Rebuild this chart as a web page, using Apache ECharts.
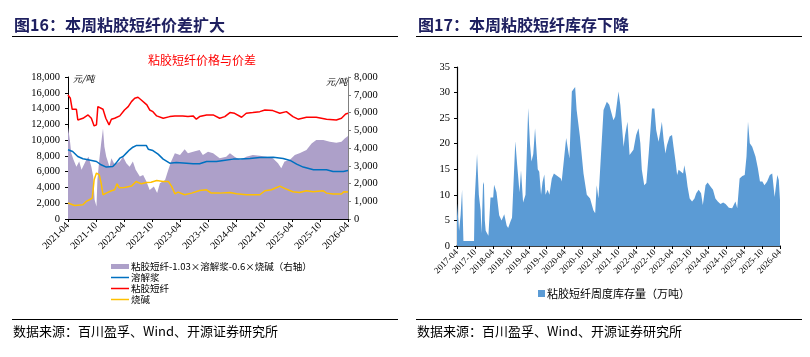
<!DOCTYPE html>
<html><head><meta charset="utf-8">
<script src="https://cdn.jsdelivr.net/npm/echarts@6/dist/echarts.min.js"></script>
<style>html,body{margin:0;padding:0;background:#fff}#c{width:810px;height:357px}</style>
</head><body><div id="c"></div>
<script>
// ---- Left chart (months since 2021-04) ----
const redM = [0,0.5,0.9,1.8,2.1,3.2,4.3,5.0,5.6,6.1,6.4,6.8,7.5,8.1,8.8,9.3,10.0,11.1,12.1,12.9,13.6,14.3,15.0,15.7,16.9,17.5,18.2,19.0,20.4,21.8,22.9,24.6,25.7,26.8,27.5,28.2,29.7,31.1,32.5,33.6,34.7,35.7,37.2,38.2,39.6,41.1,42.2,43.9,45.4,46.8,48.2,49.3,51.1,53.2,55.4,57.5,58.6,59.5,60];
const redV = [15720,15300,13900,13900,12560,12770,13190,12770,11800,11940,14240,14360,13910,12770,11930,12650,12770,13070,13820,14240,14880,15300,15430,15090,14460,13820,13610,13070,12770,12980,13070,13070,12980,13070,12650,12980,13190,13190,12770,12980,13490,13400,12900,13400,13490,13610,13820,13740,13400,13610,12980,12650,12900,12900,12650,12560,12770,13320,13400];
const pulpM = [0,1.0,2.1,3.2,4.3,6.1,7.1,8.2,9.6,10.3,11.1,11.8,12.5,13.2,13.9,14.6,16.8,17.2,18.2,19.3,20.4,21.8,23.2,25.4,26.8,28.2,29.7,31.8,33.3,35.4,36.9,39.0,41.1,44.0,46.1,47.6,49.0,50.4,52.6,55.4,56.8,59.0,60];
const pulpV = [8770,8560,7920,7630,7500,7290,6870,6580,6660,7080,7710,7920,8350,8770,9100,9310,9310,8850,8680,8220,7590,7080,7160,7080,7000,7000,7290,7290,7420,7590,7590,7670,7800,7840,7670,7420,6950,6580,6240,6240,6020,6020,6150];
const sodaM = [0,1.4,3.2,3.9,4.6,5.2,5.6,6.1,6.7,7.1,7.5,8.2,9.3,10.0,10.5,11.0,12.1,13.6,14.6,15.7,16.8,17.8,19.0,20.4,21.5,22.2,22.9,23.6,25.0,26.5,28.2,29.7,30.7,32.5,34.7,36.1,38.2,41.1,42.2,43.6,44.6,45.4,46.4,48.2,49.6,51.1,52.5,54.7,55.4,56.8,58.6,59.1,60];
const sodaV = [2020,1720,1800,2230,2440,2650,4970,5820,5600,4550,3070,3280,3580,3700,4460,3960,4000,4170,4760,4460,4630,4670,4880,4760,4760,4130,3200,3410,3070,3280,3620,3700,3280,3280,3370,3200,3070,3070,3580,3700,3960,4170,3880,3450,3370,3580,3450,3580,3280,3160,3160,3450,3410];
const spreadM = [0,0.4,0.7,1.2,1.8,2.4,2.9,3.2,3.9,4.4,5.0,5.4,5.7,6.1,6.3,6.7,7.1,7.5,7.8,8.2,8.9,9.3,10.0,11.1,11.8,12.5,13.2,13.9,14.5,15.4,16.1,16.8,17.5,18.4,19.1,19.7,20.8,21.5,22.1,22.9,24.0,25.0,25.7,26.8,28.2,28.9,30.0,31.1,32.5,33.9,34.7,35.7,36.9,38.2,39.6,41.1,42.5,43.9,45.0,45.7,46.4,47.5,48.6,49.6,51.1,52.2,53.2,54.7,56.1,57.5,58.6,59.3,60];
const spreadV = [5190,4450,3700,3330,2950,3240,2770,2950,3330,3510,2950,2390,1080,710,2200,3330,4260,5100,4070,3510,2950,3420,3050,3240,3510,3140,2950,3240,2770,2390,2480,2110,1640,1830,1460,2020,2200,2770,3240,3700,3610,3930,3700,3790,3890,3610,3790,3700,3420,3510,3700,3510,3330,3510,3610,3560,3510,3420,3140,2860,3240,3330,3610,3700,3890,4260,4450,4450,4350,4300,4350,4540,4670];
// ---- Right chart (months since 2017-04) ----
const invM = [0,0.7,1.2,1.7,2.15,5.7,5.9,6.7,7.3,7.9,8.2,8.7,9.0,9.3,9.6,10.1,10.5,11.2,12.1,12.4,13.2,14.1,14.9,15.4,15.8,16.6,17.1,18.0,18.4,19.5,20.1,20.9,21.4,21.6,22.1,22.9,23.8,24.4,24.9,25.5,26.1,27.0,27.5,28.1,28.6,29.2,29.6,30.3,30.9,31.7,32.4,34.7,35.0,35.5,36.5,36.9,37.6,38.4,39.5,40.0,41.1,42.3,43.4,44.5,45.6,46.2,46.7,47.3,47.9,49.0,50.1,50.9,51.5,52.3,52.9,54.0,54.6,55.1,55.7,56.2,57.0,57.7,59.0,59.9,60.7,61.3,61.8,62.6,63.3,64.1,65.2,66.0,66.6,67.4,68.0,68.5,69.1,69.7,70.2,71.1,71.9,72.4,73.0,73.6,74.1,74.9,75.6,76.0,76.6,77.1,77.8,78.6,79.4,80.0,80.8,81.6,82.2,82.5,83.1,83.8,84.7,85.6,86.4,87.2,88.1,89.0,89.8,90.9,92.0,93.1,93.7,94.5,95.4,96.2,96.8,97.3,97.9,98.7,99.8,100.6,101.3,102.1,102.8,103.7,104.6,105.4,106.2,106.5,107.1,107.6,108];
const invV = [8.4,3,6,11,1,1,9,18,10,7,2.5,12,12.5,5,3,2.7,2,9.5,9.5,12,10.5,6,5,4.8,6.2,4,3.5,5,5.5,20.5,16,10.5,14.8,15,8.5,10,27,20,16.5,18,23,15,14.5,10,12.5,14,10,11,10,13.2,14.2,13.2,12.6,12.6,21.1,21.1,17.1,30.2,31.1,26.6,21.4,14.2,10,9.3,7.0,6.4,11.9,9.3,9.0,26.6,28.2,27.6,27.9,24.6,25.3,30.2,27.6,27.6,19.4,21.7,24.3,17.8,18.8,21.7,23.0,20.1,14.9,11.9,12.3,18.1,26.9,26.9,22.7,20.4,22.4,24.3,20.7,18.1,19.7,21.4,21.7,19.4,16.8,13.9,14.9,14.5,14.2,15.8,13.9,11.6,9.3,8.7,9.3,10.3,11.0,10.3,8.0,8.0,11.9,12.4,11.7,11.0,9.3,8.7,8.2,8.5,8.2,7.5,7.4,8.7,7.4,13.2,13.7,13.9,17.5,24.3,20.1,19.4,17.5,15.2,12.6,12.6,11.9,12.6,13.9,14.2,9.6,9.6,13.9,12.9,9.0];

const nameSpread = '粘胶短纤-1.03×溶解浆-0.6×烧碱（右轴）';
const namePulp = '溶解浆', nameVSF = '粘胶短纤', nameSoda = '烧碱';
const nameInv = '粘胶短纤周度库存量（万吨）';

function pairs(m, v){ return m.map((x,i)=>[x, v[i]]); }
function monthLabel(baseYear, baseMonth){
  return function(val){
    const t = baseYear*12 + (baseMonth-1) + Math.round(val);
    const y = Math.floor(t/12), mo = t%12 + 1;
    return y + '-' + (mo<10?'0':'') + mo;
  };
}
function comma(v){ return String(v).replace(/\B(?=(\d{3})+(?!\d))/g, ','); }

const serif = 'Liberation Serif';
const cjk = 'Noto Sans CJK SC';
const black = '#000';
const lineIcon = 'path://M0,0H24V2H0Z';

const chart = echarts.init(document.getElementById('c'), null, {renderer:'canvas'});
chart.setOption({
  animation:false,
  backgroundColor:'#fff',
  grid:[
    {left:68, top:77, width:280, height:142},
    {left:457, top:67, width:323, height:179}
  ],
  xAxis:[
    {type:'value', gridIndex:0, min:0, max:60, interval:6, splitLine:{show:false},
     axisLine:{lineStyle:{color:black, width:1}}, axisTick:{length:3, lineStyle:{color:black}},
     axisLabel:{rotate:45, fontSize:10, fontFamily:serif, color:black, margin:5, formatter:monthLabel(2021,4)}},
    {type:'value', gridIndex:1, min:0, max:108, interval:6, splitLine:{show:false},
     axisLine:{lineStyle:{color:black, width:1.5}}, axisTick:{length:3, lineStyle:{color:black}},
     axisLabel:{rotate:45, fontSize:9, fontFamily:serif, color:black, margin:5, formatter:monthLabel(2017,4)}}
  ],
  yAxis:[
    {type:'value', gridIndex:0, position:'left', min:0, max:18000, interval:2000, splitLine:{show:false},
     axisLine:{show:true, lineStyle:{color:black}}, axisTick:{show:true, length:3, lineStyle:{color:black}},
     axisLabel:{fontSize:10.5, fontFamily:serif, color:black, margin:8, formatter:comma}},
    {type:'value', gridIndex:0, position:'right', min:0, max:8000, interval:1000, splitLine:{show:false},
     axisLine:{show:true, lineStyle:{color:'#808080'}}, axisTick:{show:true, length:3, lineStyle:{color:'#808080'}},
     axisLabel:{fontSize:10.5, fontFamily:serif, color:black, margin:6, formatter:comma}},
    {type:'value', gridIndex:1, min:0, max:35, interval:5, splitLine:{show:false},
     axisLine:{show:true, lineStyle:{color:black, width:1.2}}, axisTick:{show:true, length:3, lineStyle:{color:black}},
     axisLabel:{fontSize:10.5, fontFamily:serif, color:black, margin:7}}
  ],
  legend:[
    {orient:'vertical', left:106, top:256, itemGap:0, itemWidth:18, itemHeight:5, symbolKeepAspect:true,
     textStyle:{fontSize:9.5, fontFamily:cjk, color:black, lineHeight:11, padding:[0,0,0,-3]},
     data:[{name:nameSpread, icon:'rect'}, {name:namePulp, icon:lineIcon}, {name:nameVSF, icon:lineIcon}, {name:nameSoda, icon:lineIcon}]},
    {left:533, top:283, itemWidth:7, itemHeight:7, itemGap:0,
     textStyle:{fontSize:11, fontFamily:cjk, color:black, padding:[0,0,0,-3]},
     data:[{name:nameInv, icon:'rect'}]}
  ],
  series:[
    {name:nameSpread, type:'line', xAxisIndex:0, yAxisIndex:1, symbol:'none',
     data:pairs(spreadM, spreadV), lineStyle:{width:0}, itemStyle:{color:'#ADA0C9'},
     areaStyle:{color:'#ADA0C9', opacity:1}, z:1},
    {name:namePulp, type:'line', xAxisIndex:0, yAxisIndex:0, symbol:'none',
     data:pairs(pulpM, pulpV), lineStyle:{width:1.5, color:'#0070C0'}, itemStyle:{color:'#0070C0'}, z:3},
    {name:nameVSF, type:'line', xAxisIndex:0, yAxisIndex:0, symbol:'none',
     data:pairs(redM, redV), lineStyle:{width:1.5, color:'#FF0000'}, itemStyle:{color:'#FF0000'}, z:3},
    {name:nameSoda, type:'line', xAxisIndex:0, yAxisIndex:0, symbol:'none',
     data:pairs(sodaM, sodaV), lineStyle:{width:1.5, color:'#FFC000'}, itemStyle:{color:'#FFC000'}, z:3},
    {name:nameInv, type:'line', xAxisIndex:1, yAxisIndex:2, symbol:'none',
     data:pairs(invM, invV), lineStyle:{width:0}, itemStyle:{color:'#5B9BD5'},
     areaStyle:{color:'#5B9BD5', opacity:1}}
  ],
  graphic:[
    {type:'text', left:14, top:17, style:{text:'图16：本周粘胶短纤价差扩大', font:'bold 16px "Noto Sans CJK SC"', fill:'#1F2060'}},
    {type:'text', left:418, top:17, style:{text:'图17：本周粘胶短纤库存下降', font:'bold 16px "Noto Sans CJK SC"', fill:'#1F2060'}},
    {type:'line', shape:{x1:12, y1:36.5, x2:398, y2:36.5}, style:{stroke:'#000', lineWidth:1}},
    {type:'line', shape:{x1:416, y1:36.5, x2:802, y2:36.5}, style:{stroke:'#000', lineWidth:1}},
    {type:'line', shape:{x1:12, y1:319.5, x2:398, y2:319.5}, style:{stroke:'#000', lineWidth:1}},
    {type:'line', shape:{x1:416, y1:319.5, x2:802, y2:319.5}, style:{stroke:'#000', lineWidth:1}},
    {type:'text', left:13, top:325, style:{text:'数据来源：百川盈孚、Wind、开源证券研究所', font:'13px "Noto Sans CJK SC"', fill:'#000'}},
    {type:'text', left:417, top:325, style:{text:'数据来源：百川盈孚、Wind、开源证券研究所', font:'13px "Noto Sans CJK SC"', fill:'#000'}},
    {type:'text', left:148, top:54, style:{text:'粘胶短纤价格与价差', font:'12px "Noto Sans CJK SC"', fill:'#FF0000'}},
    {type:'text', left:73, top:74, style:{text:'元/吨', font:'italic 9px "Noto Sans CJK SC"', fill:'#000'}},
    {type:'text', left:326, top:77, style:{text:'元/吨', font:'italic 9px "Noto Sans CJK SC"', fill:'#000'}}
  ]
});
</script></body></html>
